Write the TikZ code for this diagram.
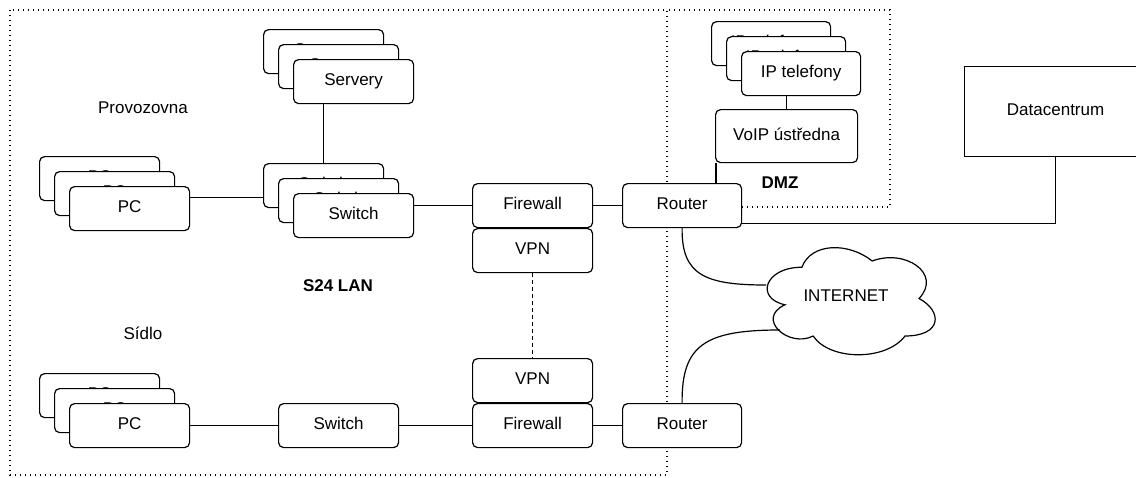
\documentclass[tikz,border=0pt]{standalone}
\usepackage{fontspec}
\setmainfont{Liberation Sans}
\begin{document}
\begin{tikzpicture}[x=1pt, y=-1pt, line width=1.2pt,
  txt/.style={font=\fontsize{17}{19}\selectfont},
  boxtxt/.style={txt, text height=8.5pt, text depth=0pt},
  dev/.style={draw, fill=white, rounded corners=5pt, minimum width=120pt,
    minimum height=44pt, inner sep=0pt, anchor=north west, boxtxt},
  zone/.style={line width=1.3pt, dash pattern=on 1.3pt off 3.7pt},
  tunnel/.style={dash pattern=on 4pt off 3pt},
  zonetitle/.style={font=\fontsize{17}{19}\selectfont\bfseries}]

\useasboundingbox (0,0) rectangle (1136,477);

% security zones
\draw[zone] (10,10) rectangle (667,475);
\draw[zone] (667,207) -- (890,207) -- (890,10) -- (667,10);

% zone and site titles
\node[txt] (tprov) at (143,108) {Provozovna};
\node[txt] (tsid) at (143,333) {Sídlo};
\node[zonetitle] (tlan) at (338,286) {S24 LAN};
\node[zonetitle] (tdmz) at (780,183) {DMZ};

% server stack
\node[dev] (svC) at (263,29) {Servery};
\node[dev] (svB) at (278,44) {Servery};
\node[dev] (svA) at (293,59) {Servery};

% branch switch stack
\node[dev] (swC) at (263,163) {Switch};
\node[dev] (swB) at (278,178) {Switch};
\node[dev] (swA) at (293,193) {Switch};

% branch PC stack
\node[dev] (pcC) at (39,156) {PC};
\node[dev] (pcB) at (54,171) {PC};
\node[dev] (pcA) at (69,186) {PC};

% head-office PC stack
\node[dev] (pc2C) at (39,373) {PC};
\node[dev] (pc2B) at (54,388) {PC};
\node[dev] (pc2A) at (69,403) {PC};

% head-office switch
\node[dev] (sw2) at (278,403) {Switch};

% gateways
\node[dev] (fw1) at (472,183) {Firewall};
\node[dev] (vpn1) at (472,228) {VPN};
\node[dev] (vpn2) at (472,358) {VPN};
\node[dev] (fw2) at (472,403) {Firewall};
\node[dev, minimum width=119pt] (r1) at (622,183) {Router};
\node[dev, minimum width=119pt] (r2) at (622,403) {Router};

% DMZ devices
\node[dev, minimum width=119pt] (ipC) at (711,21) {IP telefony};
\node[dev, minimum width=119pt] (ipB) at (726,36) {IP telefony};
\node[dev, minimum width=119pt] (ipA) at (741,51) {IP telefony};
\node[dev, minimum width=142pt, minimum height=53pt] (voip) at (715,109) {VoIP ústředna};

% datacentre
\node[draw, fill=white, anchor=north west, minimum width=182pt,
  minimum height=90pt, inner sep=0pt, boxtxt] (dc) at (964,66) {Datacentrum};

% internet cloud
\begin{scope}[shift={(755,236)}, x=187.5pt, y=-125pt]
  \draw[fill=white] (0.25,0.25)
    .. controls (0.05,0.25) and (0,0.5) .. (0.16,0.55)
    .. controls (0,0.66) and (0.18,0.9) .. (0.31,0.8)
    .. controls (0.4,1) and (0.7,1) .. (0.8,0.8)
    .. controls (1,0.8) and (1,0.6) .. (0.875,0.5)
    .. controls (1,0.3) and (0.8,0.1) .. (0.625,0.2)
    .. controls (0.5,0.05) and (0.3,0.05) .. (0.25,0.25) -- cycle;
\end{scope}
\node[txt] (inet) at (846,296) {INTERNET};
\coordinate (inetA) at (766,285);
\coordinate (inetB) at (780,330);

% links
\path (pcA.east) ++(0,-11) coordinate (pcOut);
\draw (pcOut) -- (pcOut -| swC.west);
\draw (svA.south -| svC.south) -- (swC.north);
\draw (fw1.west -| swA.east) -- (fw1.west);
\draw (fw1.east) -- (r1.west);
\draw (pc2A.east) -- (sw2.west);
\draw (sw2.east) -- (fw2.west);
\draw (fw2.east) -- (r2.west);
\draw[tunnel] (vpn1.south) -- (vpn2.north);
\draw (ipA.south -| voip.north) -- (voip.north);
\path (voip.south west) ++(1,0) coordinate (voipOut);
\draw (voipOut) -- (voipOut |- r1.north);
\path (r1.east) ++(0,18) coordinate (r1Out);
\draw (r1Out) -| (dc.south);
\draw (r1.south) .. controls (681.5,275) and (705,285) .. (inetA);
\draw (r2.north) .. controls (681.5,345) and (705,330) .. (inetB);

\end{tikzpicture}
\end{document}
